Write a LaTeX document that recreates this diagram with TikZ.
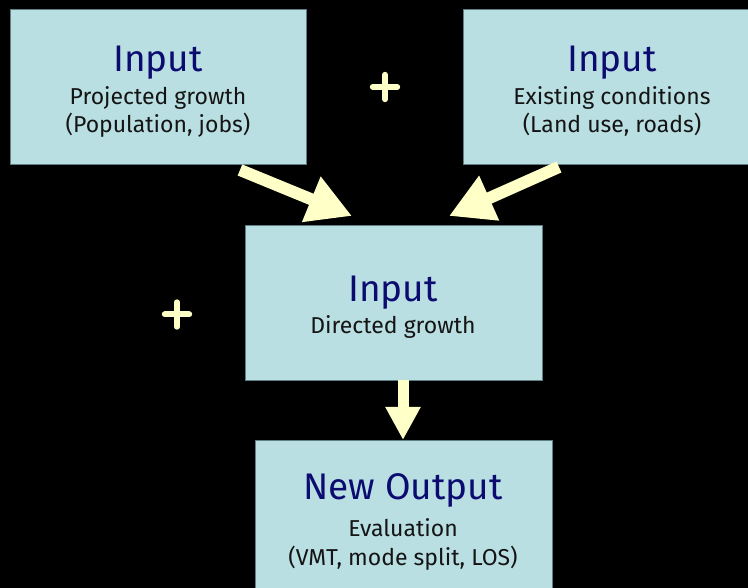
\documentclass[tikz,border=0pt]{standalone}
\usepackage{fontspec}
\setmainfont{Fira Sans}
\usetikzlibrary{arrows.meta,calc}
\definecolor{boxfill}{HTML}{B9DFE2}
\definecolor{boxline}{HTML}{5E7F83}
\definecolor{navy}{HTML}{0B0B70}
\definecolor{cream}{HTML}{FFFFC8}
\begin{document}
\begin{tikzpicture}[x=1pt,y=-1pt,
  box/.style={draw=boxline,line width=0.8pt,fill=boxfill,inner sep=0pt,outer sep=0pt,minimum height=155pt},
  title/.style={anchor=base,text=navy,font=\fontsize{37}{37}\selectfont,inner sep=0pt},
  sub/.style={anchor=base,text=black!92,font=\fontsize{23}{23}\selectfont,inner sep=0pt},
  flow/.style={draw=cream,line width=12pt,-{Triangle[width=46pt,length=44pt]}},
  flowsmall/.style={draw=cream,line width=11pt,-{Triangle[width=33pt,length=33pt]}},
  plus/.style={draw=cream,line width=6pt,line cap=round}]
\fill[black] (0,0) rectangle (748,588);
\useasboundingbox (0,0) rectangle (748,588);
\clip (0,0) rectangle (748,588);
% boxes
\node[box,minimum width=296pt] (b1) at (158,86.5) {};
\node[box,minimum width=298pt] (b2) at (612,86.5) {};
\node[box,minimum width=297pt] (b3) at (393.5,302.5) {};
\node[box,minimum width=297pt] (b4) at (403.5,517.5) {};
% texts
\node[title] (t1) at (158,72) {Input};
\node[sub] (s1a) at (158,105) {Projected growth};
\node[sub] (s1b) at (158,133) {(Population, jobs)};
\node[title] (t2) at (612,72) {Input};
\node[sub] (s2a) at (612,105) {Existing conditions};
\node[sub] (s2b) at (612,133) {(Land use, roads)};
\node[title] (t3) at (393,302) {Input};
\node[sub] (s3a) at (393,334) {Directed growth};
\node[title] (t4) at (403,500) {New Output};
\node[sub] (s4a) at (403,536) {Evaluation};
\node[sub] (s4b) at (403,565) {(VMT, mode split, LOS)};
% arrows
\coordinate (a1s) at ($(b1.south west)+(230,6)$);
\coordinate (a1e) at ($(b3.north west)+(107,-9)$);
\coordinate (a2s) at ($(b2.south west)+(96,3)$);
\coordinate (a2e) at ($(b3.north west)+(204,-9)$);
\coordinate (a3s) at ($(b3.south west)+(158,0)$);
\coordinate (a3e) at ($(b4.north west)+(148,0)$);
\draw[flow] (a1s) -- (a1e);
\draw[flow] (a2s) -- (a2e);
\draw[flowsmall] (a3s) -- (a3e);
% plus signs
\node[inner sep=0pt,minimum size=30pt] (p1) at (385,87) {};
\node[inner sep=0pt,minimum size=30pt] (p2) at (177,314.5) {};
\draw[plus] ($(p1.west)+(3,0)$) -- ($(p1.east)+(-3,0)$) ($(p1.north)+(0,3)$) -- ($(p1.south)+(0,-3)$);
\draw[plus] ($(p2.west)+(3,0)$) -- ($(p2.east)+(-3,0)$) ($(p2.north)+(0,3)$) -- ($(p2.south)+(0,-3)$);
\end{tikzpicture}
\end{document}
